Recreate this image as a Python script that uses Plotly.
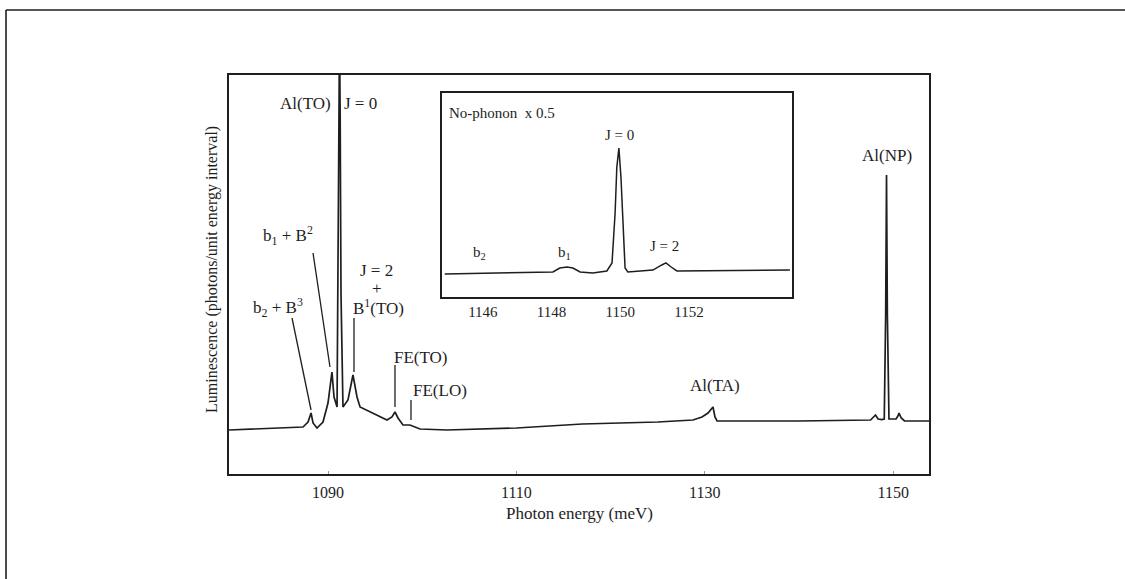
import plotly.graph_objects as go

# ---------------- data ----------------
main_energy = [1079.5, 1083.0, 1086.0, 1087.35, 1087.88, 1088.20, 1088.41, 1088.83, 1089.47,
               1090.00, 1090.42, 1090.64, 1090.96, 1091.06, 1091.15, 1091.22, 1091.29, 1091.38,
               1091.59, 1092.12, 1092.65, 1093.08, 1093.40, 1094.78, 1096.26, 1096.79, 1097.11,
               1097.43, 1097.96, 1098.70, 1099.77, 1102.63, 1110.0, 1117.0, 1125.0, 1128.75,
               1129.70, 1130.34, 1130.87, 1131.08, 1131.30, 1135.0, 1140.0, 1147.6, 1147.9,
               1148.12, 1148.4, 1148.8, 1149.05, 1149.2, 1149.29, 1149.38, 1149.55, 1150.3,
               1150.5, 1150.62, 1150.85, 1151.2, 1153.8]
main_intensity = [11.0, 11.3, 11.6, 11.75, 13.0, 15.25, 12.75, 11.5, 13.0,
                  17.75, 25.5, 19.25, 16.75, 45.0, 90.0, 110.0, 90.0, 45.0,
                  16.75, 18.5, 24.75, 19.25, 16.75, 15.25, 13.5, 14.25, 15.5,
                  14.0, 12.25, 12.25, 11.25, 11.0, 11.5, 12.5, 13.0, 13.5,
                  14.25, 15.25, 16.75, 14.25, 13.25, 13.25, 13.25, 13.5, 14.2,
                  14.75, 13.75, 13.6, 13.75, 40.0, 74.75, 40.0, 13.75, 13.75,
                  14.5, 15.25, 14.0, 13.25, 13.25]

inset_energy = [1144.89, 1147.90, 1148.04, 1148.24, 1148.45, 1148.62, 1148.83, 1149.20, 1149.61,
                1149.76, 1149.85, 1149.90, 1149.96, 1150.02, 1150.08, 1150.14, 1150.22, 1150.95,
                1151.21, 1151.33, 1151.48, 1151.65, 1154.94]
inset_intensity = [11.3, 12.0, 12.25, 14.2, 14.7, 14.2, 12.25, 11.75, 12.75,
                   16.7, 41.2, 63.7, 73.0, 58.8, 32.8, 14.2, 12.25, 13.2,
                   15.7, 16.7, 14.7, 12.75, 13.2]

main_ticks = [1090, 1110, 1130, 1150]
inset_ticks = [1146, 1148, 1150, 1152]

# peak labels of the main spectrum: text, energy, height
main_labels = ["Al(TO)", "J = 0", "b<sub>1</sub> + B<sup>2</sup>", "b<sub>2</sub> + B<sup>3</sup>",
               "J = 2", "+", "B<sup>1</sup>(TO)", "FE(TO)", "FE(LO)", "Al(TA)", "Al(NP)"]
main_label_e = [1090.53, 1091.49, 1085.75, 1084.69, 1095.2, 1095.2, 1095.41, 1099.87, 1101.89, 1131.08, 1149.34]
main_label_v = [92.75, 92.75, 59.75, 41.75, 51.0, 46.5, 41.75, 29.25, 21.0, 22.25, 79.75]
main_label_anchor = ["right", "left", "center", "center", "center", "center", "center",
                     "center", "center", "center", "center"]

# pointer lines: (e0, v0, e1, v1)
pointer_e0 = [1086.18, 1088.41, 1092.76, 1097.11, 1098.81]
pointer_v0 = [39.0, 55.25, 39.0, 27.25, 18.5]
pointer_e1 = [1088.20, 1090.21, 1092.76, 1097.11, 1098.81]
pointer_v1 = [16.0, 26.75, 25.5, 16.75, 13.5]

inset_labels = ["No-phonon  x 0.5", "J = 0", "b<sub>2</sub>", "b<sub>1</sub>", "J = 2"]
inset_label_e = [1144.95, 1149.99, 1145.91, 1148.39, 1151.30]
inset_label_v = [90.2, 79.4, 21.6, 21.6, 25.0]
inset_label_anchor = ["left", "center", "center", "center", "center"]

# ---------------- figure ----------------
INK = "#1e1e1e"
SERIF = "Liberation Serif"

fig = go.Figure()
fig.add_trace(go.Scatter(x=main_energy, y=main_intensity, mode="lines",
                         line=dict(color=INK, width=1.7), xaxis="x", yaxis="y",
                         showlegend=False, hoverinfo="skip"))
fig.add_trace(go.Scatter(x=inset_energy, y=inset_intensity, mode="lines",
                         line=dict(color=INK, width=1.5), xaxis="x2", yaxis="y2",
                         showlegend=False, hoverinfo="skip"))

L, R, T, B = 229, 196, 75, 105
W, H = 1125, 579
pw, ph = W - L - R, H - T - B


def px(xp):
    return (xp - L) / pw


def py(yp):
    return (H - B - yp) / ph


axis_common = dict(showline=True, mirror=True, linecolor=INK, linewidth=1.6,
                   showgrid=False, zeroline=False)

fig.update_layout(
    width=W, height=H,
    margin=dict(l=L, r=R, t=T, b=B),
    paper_bgcolor="white", plot_bgcolor="white",
    font=dict(family=SERIF, color=INK),
    xaxis=dict(domain=[0, 1], range=[1079.49, 1153.8], tickvals=main_ticks,
               ticks="inside", ticklen=3, tickcolor="#999", tickwidth=1,
               tickfont=dict(size=16, family=SERIF, color=INK), ticklabelstandoff=3,
               **axis_common),
    yaxis=dict(domain=[0, 1], range=[0, 99.75], showticklabels=False, ticks="",
               **axis_common),
    xaxis2=dict(domain=[px(442), px(792)], anchor="y2", range=[1144.81, 1155.0],
                tickvals=inset_ticks, ticks="", tickfont=dict(size=15, family=SERIF, color=INK),
                ticklabelstandoff=0, **axis_common),
    yaxis2=dict(domain=[py(297), py(93)], anchor="x2", range=[0, 100],
                showticklabels=False, ticks="", **axis_common),
)

annotations = []
for t, e, v, a in zip(main_labels, main_label_e, main_label_v, main_label_anchor):
    annotations.append(dict(text=t, x=e, y=v, xref="x", yref="y", xanchor=a, yanchor="middle",
                            showarrow=False, font=dict(size=17, family=SERIF, color=INK)))
for t, e, v, a in zip(inset_labels, inset_label_e, inset_label_v, inset_label_anchor):
    annotations.append(dict(text=t, x=e, y=v, xref="x2", yref="y2", xanchor=a, yanchor="middle",
                            showarrow=False, font=dict(size=15, family=SERIF, color=INK)))
annotations.append(dict(text="Photon energy (meV)", x=0.5, y=py(513), xref="paper", yref="paper",
                        xanchor="center", yanchor="middle", showarrow=False,
                        font=dict(size=17, family=SERIF, color=INK)))
annotations.append(dict(text="Luminescence (photons/unit energy interval)", x=px(212), y=py(270),
                        xref="paper", yref="paper", xanchor="center", yanchor="middle",
                        textangle=-90, showarrow=False,
                        font=dict(size=16, family=SERIF, color=INK)))
fig.update_layout(annotations=annotations)

shapes = []
for e0, v0, e1, v1 in zip(pointer_e0, pointer_v0, pointer_e1, pointer_v1):
    shapes.append(dict(type="line", x0=e0, y0=v0, x1=e1, y1=v1, xref="x", yref="y",
                       line=dict(color=INK, width=1.3)))
# page frame (top and left edges)
shapes.append(dict(type="line", x0=px(6), y0=py(10), x1=px(1130), y1=py(10),
                   xref="paper", yref="paper", line=dict(color=INK, width=1.6)))
shapes.append(dict(type="line", x0=px(6), y0=py(10), x1=px(6), y1=py(585),
                   xref="paper", yref="paper", line=dict(color=INK, width=1.6)))
fig.update_layout(shapes=shapes)

fig.write_html("out.html")
